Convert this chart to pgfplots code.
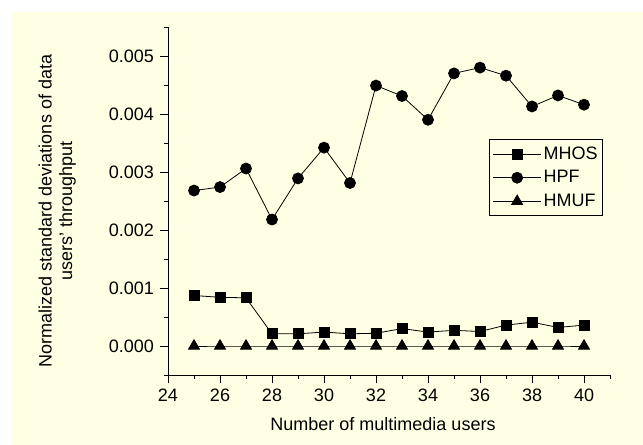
\documentclass[border=0pt]{standalone}
\usepackage{pgfplots}
\pgfplotsset{compat=1.18}
\usepackage{fontspec}
\setmainfont{Liberation Sans}
\definecolor{bgy}{RGB}{255,255,227}
\begin{document}
\fontsize{18bp}{20.5bp}\selectfont
\begin{tikzpicture}[x=1bp,y=1bp]
\fill[bgy] (12,0) rectangle (643,433);
\begin{axis}[
  at={(168bp,70bp)}, anchor=south west,
  scale only axis, width=442bp, height=348bp,
  xmin=24, xmax=41, ymin=-0.0005, ymax=0.0055,
  axis lines*=left,
  x axis line style={-}, y axis line style={-},
  axis line style={line width=0.8bp, black},
  tick align=outside,
  tick style={black, line width=0.8bp},
  major tick length=8bp, minor tick length=4bp,
  xtick={24,26,28,30,32,34,36,38,40},
  minor xtick={25,27,29,31,33,35,37,39,41},
  ytick={0,0.001,0.002,0.003,0.004,0.005},
  minor ytick={-0.0005,0.0005,0.0015,0.0025,0.0035,0.0045,0.0055},
  scaled y ticks=false,
  yticklabel style={/pgf/number format/.cd, fixed, fixed zerofill, precision=3},
  /pgf/number format/assume math mode=true,
  xlabel={Number of multimedia users},
  ylabel={Normalized standard deviations of data\\users' throughput},
  xlabel style={at={(axis description cs:0.5,0)}, anchor=base, yshift=-56bp, xshift=-6bp},
  ylabel style={at={(axis description cs:-0.1946,0.4713)}, anchor=south, align=center},
  legend style={at={(0.984,0.678)}, anchor=north east, draw=black, line width=0.8bp, fill=none,
    inner xsep=3bp, inner ysep=5bp, row sep=4.5bp},
  legend cell align=left,
  legend image code/.code={\draw[mark repeat=2,mark phase=2] plot coordinates {(0bp,0bp) (24bp,0bp) (48bp,0bp)};},
]
\addplot[black, line width=0.8bp, mark=square*, mark size=5bp, mark options={solid, fill=black}] coordinates {
(25,0.00087) (26,0.00084) (27,0.00083) (28,0.00021) (29,0.00021) (30,0.00024) (31,0.00021) (32,0.00022)
(33,0.00030) (34,0.00024) (35,0.00027) (36,0.00025) (37,0.00036) (38,0.00041) (39,0.00032) (40,0.00036)};
\addlegendentry{MHOS}
\addplot[black, line width=0.8bp, mark=*, mark size=5.5bp, mark options={solid, fill=black}] coordinates {
(25,0.00268) (26,0.00274) (27,0.00306) (28,0.00218) (29,0.00289) (30,0.00342) (31,0.00281) (32,0.00449)
(33,0.00431) (34,0.00390) (35,0.00470) (36,0.00480) (37,0.00466) (38,0.00413) (39,0.00432) (40,0.00416)};
\addlegendentry{HPF}
\addplot[black, line width=0.8bp, mark=triangle*, mark size=6.3bp, mark options={solid, fill=black}] coordinates {
(25,0) (26,0) (27,0) (28,0) (29,0) (30,0) (31,0) (32,0)
(33,0) (34,0) (35,0) (36,0) (37,0) (38,0) (39,0) (40,0)};
\addlegendentry{HMUF}
\end{axis}
\pgfresetboundingbox
\path[use as bounding box] (0,0) rectangle (643,445);
\end{tikzpicture}
\end{document}
